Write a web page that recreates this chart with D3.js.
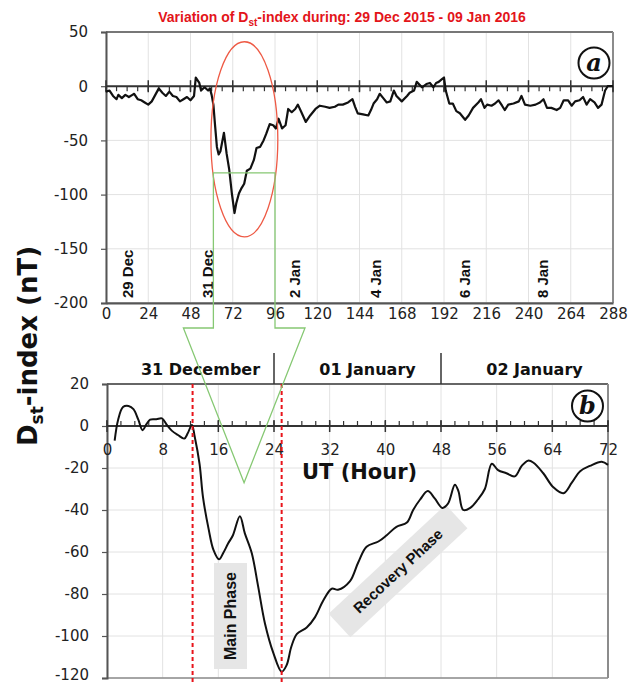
<!DOCTYPE html>
<html>
<head>
<meta charset="utf-8">
<script src="https://cdn.jsdelivr.net/npm/d3@7"></script>
<style>
body { margin: 0; background: #fff; }
svg { display: block; }
</style>
</head>
<body>
<div id="chart"></div>
<script>
// panel a : Dst, hours from 29 Dec 2015 00 UT
var hoursA = [0, 2, 4, 6, 7, 9, 11, 13, 15, 16, 18, 20, 22, 24, 26, 28, 30, 32, 34, 36, 38, 40, 42, 44, 46, 48,
  50, 51, 53, 54, 56, 58, 59, 60, 61, 62, 63, 64, 65, 67, 68.5, 70, 71.5, 73, 74, 75.5, 77, 78.5, 80, 82, 84,
  85.5, 87.5, 89.5, 91, 93, 95, 96.5, 98, 100, 102, 103.5, 105.5, 107.5, 109, 111, 113.5, 116, 119, 121.5,
  124.5, 127, 130, 132, 134.5, 137.5, 140, 141.5, 143, 146, 149, 150.5, 152, 154, 155.5, 157.5, 159.5, 161.5,
  163.5, 165, 168, 171, 172.5, 175, 176.5, 179.5, 182, 184, 186, 187.5, 189, 190.5, 192, 193, 195, 197, 199,
  201, 204, 206, 208.5, 211.5, 213, 215, 216.5, 219, 221, 223, 225, 226.5, 228.5, 231.5, 234.5, 236, 238, 241,
  244, 246.5, 248.5, 250.5, 253, 256, 258, 260, 262.5, 264.5, 266.5, 269, 271, 273, 275, 277.5, 279.5, 281.5,
  283.5, 285, 288];
var dstA = [-5, -4, -9, -12, -8, -11, -8, -10, -8, -7, -12, -13, -15, -17, -14, -8, -2, -6, -9, -5, -9, -10, -14, -12, -10, -13,
  -9, 8, 3, -4, -1, -4, -2, -8, -17, -37, -56, -63, -60, -43, -62, -77, -99, -117, -108, -99, -94, -90, -78, -76, -68,
  -57, -56, -50, -44, -35, -36, -39, -30, -39, -36, -21, -24, -21, -17, -24, -33, -27, -21, -18,
  -19, -20, -19, -17, -17, -15, -12, -19, -25, -26, -27, -22, -16, -12, -7, -11, -15, -14,
  -4, -9, -14, -9, -6, -4, 4, -1, 2, 3, -1, 3, 4, 6, 8, -4, -16, -16, -23,
  -25, -31, -27, -20, -15, -12, -20, -17, -18, -16, -13, -18, -22, -17, -16, -14, -9, -17, -18,
  -17, -15, -12, -20, -20, -22, -20, -13, -13, -18, -14, -13, -10, -17, -12, -15, -20, -17,
  -4, 0, 0];

// panel b : 31 Dec - 02 Jan, hours from 31 Dec 00 UT
var hoursB = [1.1, 1.6, 2.3, 3.1, 3.8, 4.5, 5.1, 5.7, 6.2, 7.1, 7.9, 8.6, 9.3, 10.2, 11.1, 11.6, 12.2, 12.6, 13.3,
  13.8, 14.6, 15.3, 16.1, 16.7, 17.4, 18.1, 19.1, 19.8, 20.8, 21.7, 22.7, 23.9, 25.1, 25.8, 26.5, 27.3, 28.7,
  29.9, 31.1, 32.3, 33.2, 34.9, 36.1, 37.3, 39, 40.2, 41.6, 43.1, 44, 45, 46.1, 47.1, 48.2, 49, 50, 50.5, 51.2,
  52.2, 53.3, 54.3, 55.3, 56.2, 57.4, 58.6, 59.6, 60.5, 61.3, 62.7, 64.1, 65.6, 66.8, 68, 69.4, 71.1, 72];
var dstB = [-7, 3, 9, 9.5, 8, 3, -2, 1, 3, 3.2, 3.6, 0.5, -2.2, -4.3, -6, -3.5, 0.5, -5, -18,
  -34, -49, -59, -63.5, -60.5, -56, -52, -43, -51, -60.5, -76, -94, -108, -117, -114, -105, -99, -96,
  -91, -83, -77.5, -78, -74, -65, -57.5, -55, -52, -48, -46, -40, -35, -31, -34.5, -39, -37, -28, -31, -40,
  -39, -35, -30, -18, -21, -22.5, -24, -19, -16.5, -17.5, -22.5, -29, -32, -27, -21.5, -19, -17, -18.5];

var xTicksA = [0, 24, 48, 72, 96, 120, 144, 168, 192, 216, 240, 264, 288];
var yTicksA = [50, 0, -50, -100, -150, -200];
var xTicksB = [0, 8, 16, 24, 32, 40, 48, 56, 64, 72];
var yTicksB = [20, 0, -20, -40, -60, -80, -100, -120];

var dateLabels = ['29 Dec', '31 Dec', '2 Jan', '4 Jan', '6 Jan', '8 Jan'];
var dateHours = [12.5, 58, 107, 153.5, 204, 248];
var dayNames = ['31 December', '01 January', '02 January'];
var dayStart = [0, 24, 48];
var phaseHours = [12.3, 25.1];   // red dashed lines, start and end of main phase

var dst_chart = {
	init: function () {
		var self = this;
		self.width = 640;
		self.height = 684;
		self.font = '"DejaVu Sans", Verdana, sans-serif';
		self.svg = d3.select('#chart').append('svg')
			.attr('width', self.width)
			.attr('height', self.height);
		self.svg.append('rect').attr('width', self.width).attr('height', self.height).attr('fill', '#fff');

		self.xA = d3.scaleLinear().domain([0, 288]).range([106, 613]);
		self.yA = d3.scaleLinear().domain([-200, 50]).range([303, 32]);
		self.xB = d3.scaleLinear().domain([0, 72]).range([107, 608]);
		self.yB = d3.scaleLinear().domain([-120, 20]).range([678, 384]);

		self.drawTitle();
		self.drawPanelA();
		self.drawPanelB();
		self.drawZoomMarks();
	},
	drawTitle: function () {
		var self = this;
		var t = self.svg.append('text')
			.attr('x', 342).attr('y', 22)
			.attr('text-anchor', 'middle')
			.attr('font-family', '"Liberation Sans", Arial, sans-serif')
			.attr('font-weight', 'bold')
			.attr('font-size', 14)
			.attr('fill', '#e3151a');
		t.append('tspan').text('Variation of D');
		t.append('tspan').attr('font-size', 10).attr('dy', 4).text('st');
		t.append('tspan').attr('dy', -4).text('-index during: 29 Dec 2015 - 09 Jan 2016');

		// y title shared by both panels
		var yt = self.svg.append('text')
			.attr('transform', 'translate(37,346) rotate(-90)')
			.attr('text-anchor', 'middle')
			.attr('font-family', self.font)
			.attr('font-weight', 'bold')
			.attr('font-size', 26)
			.attr('fill', '#111');
		yt.append('tspan').text('D');
		yt.append('tspan').attr('font-size', 17).attr('dy', 6).text('st');
		yt.append('tspan').attr('dy', -6).text('-index (nT)');
	},
	grid: function (g, x, y, xt, yt) {
		g.selectAll('line.gx').data(xt).enter().append('line')
			.attr('x1', x).attr('x2', x)
			.attr('y1', y.range()[0]).attr('y2', y.range()[1])
			.attr('stroke', '#e2e2e2').attr('stroke-width', 1);
		g.selectAll('line.gy').data(yt).enter().append('line')
			.attr('x1', x.range()[0]).attr('x2', x.range()[1])
			.attr('y1', y).attr('y2', y)
			.attr('stroke', '#e2e2e2').attr('stroke-width', 1);
	},
	frame: function (g, x, y, topColor) {
		var x0 = x.range()[0], x1 = x.range()[1], y0 = y.range()[0], y1 = y.range()[1];
		g.append('line').attr('x1', x0).attr('x2', x1).attr('y1', y1).attr('y2', y1)
			.attr('stroke', topColor).attr('stroke-width', 2);
		g.append('line').attr('x1', x1).attr('x2', x1).attr('y1', y1).attr('y2', y0)
			.attr('stroke', '#8c8c8c').attr('stroke-width', 2);
		g.append('line').attr('x1', x0).attr('x2', x1).attr('y1', y0).attr('y2', y0)
			.attr('stroke', '#8c8c8c').attr('stroke-width', 1.5);
	},
	yAxis: function (g, x, y, ticks) {
		var self = this;
		var ax = g.append('g')
			.attr('transform', 'translate(' + x.range()[0] + ',0)')
			.call(d3.axisLeft(y).tickValues(ticks).tickSize(5).tickPadding(13)
				.tickFormat(function (d) { return String(d); }));
		ax.select('.domain').attr('stroke', '#555').attr('stroke-width', 2);
		ax.selectAll('.tick line').attr('stroke', '#555').attr('stroke-width', 1.2);
		ax.selectAll('text').attr('font-family', self.font).attr('font-size', 15).attr('fill', '#222');
		return ax;
	},
	zeroLine: function (g, x, y, minor, major, up) {
		var y0 = y(0);
		g.append('line').attr('x1', x.range()[0]).attr('x2', x.range()[1])
			.attr('y1', y0).attr('y2', y0)
			.attr('stroke', '#333').attr('stroke-width', 2);
		g.selectAll('line.minor').data(minor).enter().append('line')
			.attr('x1', x).attr('x2', x)
			.attr('y1', y0).attr('y2', up ? y0 - 5 : y0 + 5)
			.attr('stroke', '#333').attr('stroke-width', 1.2);
		g.selectAll('line.major').data(major).enter().append('line')
			.attr('x1', x).attr('x2', x)
			.attr('y1', y0 - 6).attr('y2', y0 + 6)
			.attr('stroke', '#333').attr('stroke-width', 1.5);
	},
	circled: function (cx, cy, letter) {
		var self = this;
		self.svg.append('circle').attr('cx', cx).attr('cy', cy).attr('r', 15.5)
			.attr('fill', '#fff').attr('stroke', '#111').attr('stroke-width', 2);
		self.svg.append('text').attr('x', cx).attr('y', cy + 8)
			.attr('text-anchor', 'middle')
			.attr('font-family', '"DejaVu Serif", "Liberation Serif", serif')
			.attr('font-style', 'italic').attr('font-weight', 'bold')
			.attr('font-size', 24).attr('fill', '#111')
			.text(letter);
	},
	drawPanelA: function () {
		var self = this;
		var x = self.xA, y = self.yA;
		var g = self.svg.append('g').attr('class', 'panel-a');

		self.grid(g, x, y, xTicksA, yTicksA);
		self.frame(g, x, y, '#777');

		// x labels along the bottom
		var xb = g.append('g')
			.attr('transform', 'translate(0,' + y(-200) + ')')
			.call(d3.axisBottom(x).tickValues(xTicksA).tickSize(0).tickPadding(5));
		xb.select('.domain').attr('stroke', '#555').attr('stroke-width', 2);
		xb.selectAll('text').attr('font-family', self.font).attr('font-size', 15).attr('fill', '#222');

		self.yAxis(g, x, y, yTicksA);
		self.zeroLine(g, x, y, d3.range(0, 289, 6), xTicksA, false);

		// date labels
		g.selectAll('text.date').data(dateLabels).enter().append('text')
			.attr('class', 'date')
			.attr('transform', function (d, i) { return 'translate(' + x(dateHours[i]) + ',298) rotate(-90)'; })
			.attr('dy', '0.35em')
			.attr('font-family', '"Liberation Sans", Arial, sans-serif')
			.attr('font-weight', 'bold')
			.attr('font-size', 15)
			.attr('fill', '#111')
			.text(function (d) { return d; });

		var line = d3.line()
			.x(function (d, i) { return x(hoursA[i]); })
			.y(function (d) { return y(d); });
		g.append('path').datum(dstA)
			.attr('d', line)
			.attr('fill', 'none')
			.attr('stroke', '#111')
			.attr('stroke-width', 2.2)
			.attr('stroke-linejoin', 'round');

		self.circled(594, 63, 'a');
	},
	drawPanelB: function () {
		var self = this;
		var x = self.xB, y = self.yB;
		var g = self.svg.append('g').attr('class', 'panel-b');

		self.grid(g, x, y, xTicksB, yTicksB);
		self.frame(g, x, y, '#666');
		var ay = self.yAxis(g, x, y, yTicksB);
		// bottom label sits right on the page edge, lift it a little
		ay.selectAll('.tick').filter(function (d) { return d === -120; })
			.select('text').attr('dy', '0.12em');

		var xb = g.append('g')
			.attr('transform', 'translate(0,' + y(0) + ')')
			.call(d3.axisBottom(x).tickValues(xTicksB).tickSize(0).tickPadding(18));
		xb.select('.domain').remove();
		xb.selectAll('text').attr('font-family', self.font).attr('font-size', 15).attr('fill', '#222');
		self.zeroLine(g, x, y, d3.range(0, 73, 2), xTicksB, true);

		// day names above the panel
		g.selectAll('text.day').data(dayNames).enter().append('text')
			.attr('x', function (d, i) { return x(dayStart[i] + 12) + 10; })
			.attr('y', 375)
			.attr('text-anchor', 'middle')
			.attr('font-family', self.font)
			.attr('font-weight', 'bold')
			.attr('font-size', 16)
			.attr('fill', '#111')
			.text(function (d) { return d; });
		g.selectAll('line.daysep').data([24, 48]).enter().append('line')
			.attr('x1', x).attr('x2', x)
			.attr('y1', 353).attr('y2', y(20))
			.attr('stroke', '#333').attr('stroke-width', 1.5);

		g.append('text')
			.attr('x', 302).attr('y', 479)
			.attr('font-family', self.font)
			.attr('font-weight', 'bold')
			.attr('font-size', 21)
			.attr('fill', '#111')
			.text('UT (Hour)');

		// phase labels
		g.append('rect')
			.attr('x', 214).attr('y', 563).attr('width', 33).attr('height', 106)
			.attr('fill', '#e6e6e6');
		g.append('text')
			.attr('transform', 'translate(230.5,616) rotate(-90)')
			.attr('text-anchor', 'middle').attr('dy', '0.35em')
			.attr('font-family', '"Liberation Sans", Arial, sans-serif')
			.attr('font-weight', 'bold').attr('font-size', 16).attr('fill', '#111')
			.text('Main Phase');
		var rp = g.append('g').attr('transform', 'translate(398,571) rotate(-43)');
		rp.append('rect')
			.attr('x', -80).attr('y', -16).attr('width', 160).attr('height', 32)
			.attr('fill', '#e6e6e6');
		rp.append('text')
			.attr('text-anchor', 'middle').attr('dy', '0.35em')
			.attr('font-family', '"Liberation Sans", Arial, sans-serif')
			.attr('font-weight', 'bold').attr('font-size', 15).attr('fill', '#111')
			.text('Recovery Phase');

		var line = d3.line()
			.x(function (d, i) { return x(hoursB[i]); })
			.y(function (d) { return y(d); })
			.curve(d3.curveCatmullRom.alpha(0.5));
		g.append('path').datum(dstB)
			.attr('d', line)
			.attr('fill', 'none')
			.attr('stroke', '#111')
			.attr('stroke-width', 2);

		g.selectAll('line.phase').data(phaseHours).enter().append('line')
			.attr('x1', x).attr('x2', x)
			.attr('y1', y(20)).attr('y2', self.height)
			.attr('stroke', '#e8141b').attr('stroke-width', 2)
			.attr('stroke-dasharray', '4,3');

		self.circled(587.5, 406, 'b');
	},
	drawZoomMarks: function () {
		var self = this;
		var xA = self.xA, yA = self.yA, xB = self.xB, yB = self.yB;
		// red ellipse round the storm
		self.svg.append('ellipse')
			.attr('cx', xA(78.6)).attr('cy', yA(-49))
			.attr('rx', xA(19) - xA(0)).attr('ry', yA(-90) - yA(0))
			.attr('fill', 'none').attr('stroke', '#ee5a45').attr('stroke-width', 1.3);
		// green arrow from panel a down into panel b
		var left = xA(61), right = xA(96), top = yA(-80), neck = 328;
		var pts = [[left, top], [left, neck], [left - 30, neck], [xB(19.7), yB(-27)],
			[right + 30, neck], [right, neck], [right, top]];
		self.svg.append('path')
			.attr('d', d3.line()(pts) + 'Z')
			.attr('fill', 'none').attr('stroke', '#86c873').attr('stroke-width', 1.3);
	}
};

dst_chart.init();
</script>
</body>
</html>
